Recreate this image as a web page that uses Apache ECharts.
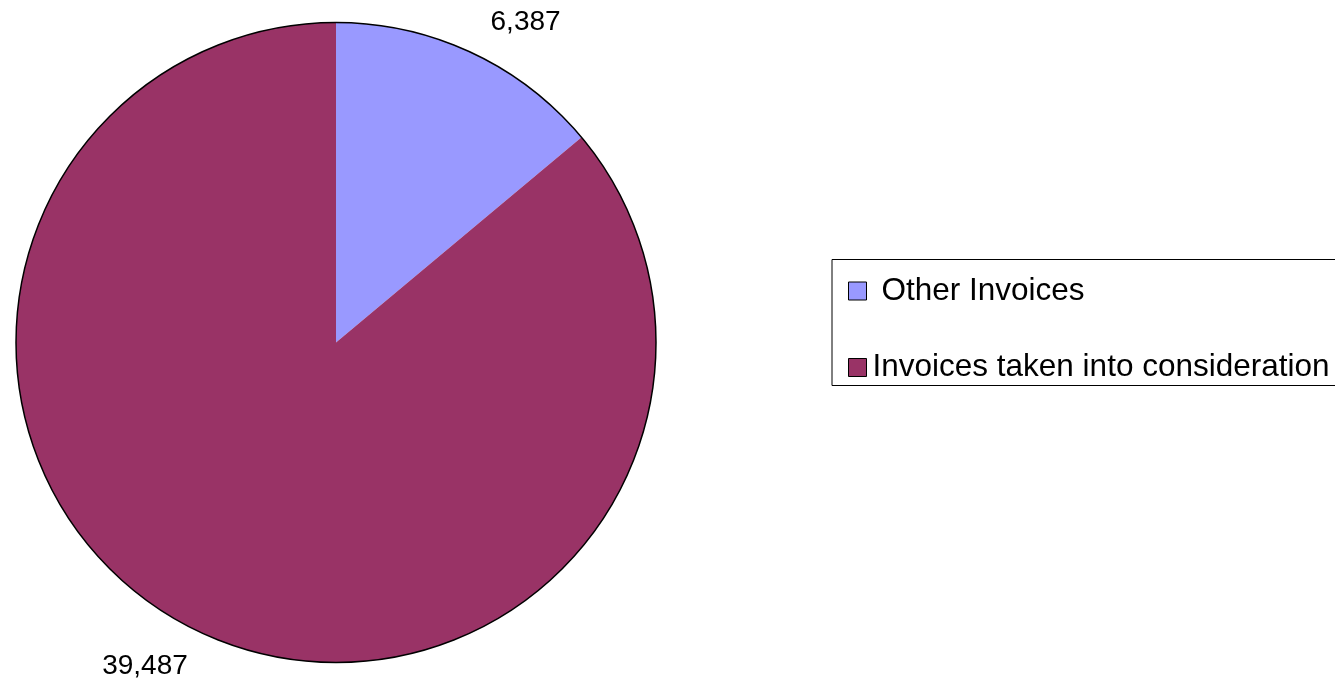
<!DOCTYPE html>
<html>
<head>
<meta charset="utf-8">
<title>Invoices</title>
<script src="https://cdn.jsdelivr.net/npm/echarts@6/dist/echarts.min.js"></script>
<style>
  html, body { margin: 0; padding: 0; background: #ffffff; }
  #chart { width: 1335px; height: 681px; }
</style>
</head>
<body>
<div id="chart"></div>
<script>
// Invoice counts by group
const categories = ['Other Invoices', 'Invoices taken into consideration'];
const counts = [6387, 39487];
const sliceColors = ['#9999FF', '#993366'];

const fmt = new Intl.NumberFormat('en-US');
const FONT = '"Liberation Sans", Arial, Helvetica, sans-serif';
const PIE_CENTER = [336, 342.5];
const PIE_RADIUS = 320;

// Value labels sit just outside the rim with no leader lines
const labelPlacement = [
  { length: 33, length2: 0, distance: 5 },
  { length: 37, length2: 0, distance: -3 }
];

const pieData = categories.map((name, i) => ({
  name: name,
  value: counts[i],
  itemStyle: { color: sliceColors[i] },
  labelLine: { show: false, length: labelPlacement[i].length, length2: labelPlacement[i].length2 },
  label: { distanceToLabelLine: labelPlacement[i].distance }
}));

// Legend text offsets from the swatches
const legendTextPad = [10, 1];

const chart = echarts.init(document.getElementById('chart'), null, { renderer: 'canvas' });

chart.setOption({
  backgroundColor: '#ffffff',
  animation: false,
  legend: {
    orient: 'vertical',
    left: 832,
    top: 259.5,
    padding: [15.5, 40, 2, 16],
    itemGap: 44.5,
    itemWidth: 18,
    itemHeight: 18,
    borderColor: '#000000',
    borderWidth: 1,
    selectedMode: false,
    icon: 'rect',
    itemStyle: { borderColor: '#000000', borderWidth: 1 },
    textStyle: { fontFamily: FONT, fontSize: 31.5, color: '#000000', lineHeight: 30 },
    data: categories.map((name, i) => ({
      name: name,
      textStyle: { padding: [0, 0, 0, legendTextPad[i]] }
    }))
  },
  series: [
    {
      type: 'pie',
      center: PIE_CENTER,
      radius: PIE_RADIUS,
      startAngle: 90,
      clockwise: true,
      avoidLabelOverlap: false,
      silent: true,
      itemStyle: { borderWidth: 0 },
      emphasis: { disabled: true },
      label: {
        show: true,
        position: 'outside',
        formatter: p => fmt.format(p.value),
        fontFamily: FONT,
        fontSize: 28,
        color: '#000000'
      },
      data: pieData
    },
    {
      // Rim outline drawn around the whole disc
      type: 'pie',
      center: PIE_CENTER,
      radius: PIE_RADIUS,
      silent: true,
      emphasis: { disabled: true },
      label: { show: false },
      labelLine: { show: false },
      itemStyle: { color: 'rgba(0,0,0,0)', borderColor: '#000000', borderWidth: 1.5 },
      data: [{ name: 'rim', value: 1 }]
    }
  ]
});
</script>
</body>
</html>
